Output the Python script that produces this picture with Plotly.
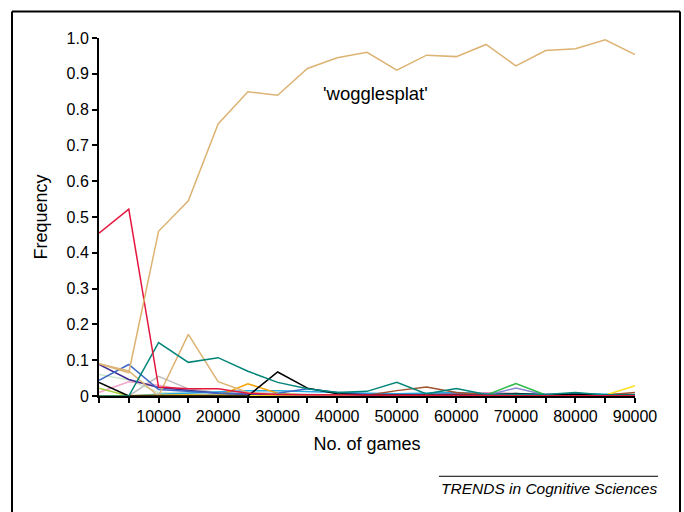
import plotly.graph_objects as go

games = [0, 5000, 10000, 15000, 20000, 25000, 30000, 35000, 40000, 45000,
         50000, 55000, 60000, 65000, 70000, 75000, 80000, 85000, 90000]

wogglesplat = [0.090, 0.065, 0.460, 0.545, 0.760, 0.850, 0.840, 0.915, 0.945, 0.960,
               0.910, 0.952, 0.948, 0.982, 0.922, 0.965, 0.970, 0.995, 0.954]
red = [0.455, 0.522, 0.025, 0.020, 0.020, 0.008, 0.004, 0.003, 0.002, 0.002,
       0.002, 0.002, 0.001, 0.001, 0.001, 0.001, 0.001, 0.001, 0.001]
teal = [0.000, 0.000, 0.149, 0.094, 0.107, 0.069, 0.038, 0.020, 0.010, 0.013,
        0.038, 0.006, 0.021, 0.004, 0.005, 0.004, 0.010, 0.003, 0.003]
black = [0.038, 0.000, 0.000, 0.000, 0.000, 0.000, 0.067, 0.022, 0.006, 0.003,
         0.003, 0.002, 0.002, 0.002, 0.007, 0.003, 0.005, 0.002, 0.003]
blue = [0.044, 0.088, 0.018, 0.012, 0.008, 0.006, 0.008, 0.020, 0.010, 0.005,
        0.004, 0.003, 0.004, 0.003, 0.004, 0.003, 0.008, 0.003, 0.003]
indigo = [0.088, 0.046, 0.024, 0.015, 0.008, 0.005, 0.004, 0.003, 0.002, 0.002,
          0.002, 0.002, 0.002, 0.002, 0.002, 0.002, 0.002, 0.002, 0.002]
pink = [0.010, 0.040, 0.030, 0.015, 0.008, 0.005, 0.004, 0.003, 0.002, 0.002,
        0.002, 0.002, 0.002, 0.002, 0.002, 0.002, 0.002, 0.002, 0.002]
palegreen = [0.060, 0.045, 0.010, 0.006, 0.004, 0.003, 0.002, 0.002, 0.002, 0.002,
             0.002, 0.002, 0.002, 0.002, 0.002, 0.002, 0.002, 0.002, 0.002]
yellowgreen = [0.022, 0.000, 0.002, 0.002, 0.002, 0.001, 0.001, 0.001, 0.001, 0.001,
               0.001, 0.001, 0.001, 0.001, 0.001, 0.001, 0.001, 0.001, 0.001]
gray = [0.000, 0.000, 0.055, 0.020, 0.010, 0.006, 0.004, 0.003, 0.002, 0.002,
        0.002, 0.002, 0.002, 0.002, 0.002, 0.002, 0.002, 0.002, 0.002]
tan2 = [0.090, 0.070, 0.000, 0.172, 0.040, 0.010, 0.005, 0.003, 0.002, 0.002,
        0.002, 0.002, 0.002, 0.002, 0.002, 0.002, 0.002, 0.002, 0.002]
orange = [0.000, 0.000, 0.002, 0.003, 0.000, 0.034, 0.008, 0.002, 0.001, 0.001,
          0.001, 0.001, 0.001, 0.001, 0.001, 0.001, 0.001, 0.001, 0.001]
cyan = [0.000, 0.000, 0.005, 0.008, 0.012, 0.015, 0.015, 0.012, 0.010, 0.008,
        0.006, 0.008, 0.010, 0.006, 0.004, 0.004, 0.006, 0.004, 0.004]
brown = [0.000, 0.000, 0.000, 0.001, 0.001, 0.001, 0.001, 0.001, 0.001, 0.002,
         0.015, 0.025, 0.010, 0.004, 0.003, 0.002, 0.003, 0.003, 0.010]
magenta = [0.000, 0.000, 0.002, 0.002, 0.002, 0.002, 0.002, 0.002, 0.002, 0.002,
           0.004, 0.004, 0.006, 0.008, 0.006, 0.003, 0.003, 0.002, 0.002]
green = [0.000, 0.000, 0.000, 0.000, 0.000, 0.000, 0.000, 0.000, 0.000, 0.001,
         0.001, 0.001, 0.002, 0.002, 0.035, 0.003, 0.002, 0.002, 0.002]
lavender = [0.000, 0.000, 0.000, 0.000, 0.000, 0.000, 0.000, 0.000, 0.000, 0.001,
            0.001, 0.001, 0.002, 0.002, 0.022, 0.003, 0.003, 0.002, 0.002]
yellow = [0.000, 0.000, 0.000, 0.000, 0.000, 0.000, 0.000, 0.000, 0.000, 0.000,
          0.000, 0.000, 0.000, 0.000, 0.000, 0.000, 0.000, 0.002, 0.029]

series = [
    ("palegreen", palegreen, "#CFE8CC"),
    ("gray", gray, "#BDBDBD"),
    ("pink", pink, "#F2A7CB"),
    ("yellowgreen", yellowgreen, "#A6D03A"),
    ("magenta", magenta, "#C2227A"),
    ("cyan", cyan, "#22A9DF"),
    ("brown", brown, "#A0522D"),
    ("lavender", lavender, "#8C86D4"),
    ("green", green, "#2DB84A"),
    ("yellow", yellow, "#FFE01A"),
    ("orange", orange, "#F5A300"),
    ("indigo", indigo, "#3B2B8E"),
    ("blue", blue, "#3E68C6"),
    ("tan2", tan2, "#DDB373"),
    ("black", black, "#000000"),
    ("teal", teal, "#008578"),
    ("red", red, "#E3173E"),
    ("wogglesplat", wogglesplat, "#DDB373"),
]

fig = go.Figure()
for name, vals, col in series:
    fig.add_trace(go.Scatter(x=games, y=vals, mode="lines", name=name,
                             line=dict(color=col, width=1.5), showlegend=False))

# plot area in pixels
W, H = 684, 512
L, R, T, B = 99, 635, 37.5, 396.5


def px(x):
    return (x - L) / (R - L)


def py(y):
    return (B - y) / (B - T)


tickvals = list(range(0, 90001, 5000))
ticktext = [("" if (v % 10000 or v == 0) else str(v)) for v in tickvals]

font = "Liberation Sans, Arial, sans-serif"

fig.update_layout(
    width=W, height=H,
    margin=dict(l=L, r=W - R, t=T, b=H - B),
    paper_bgcolor="white", plot_bgcolor="white",
    font=dict(family=font, size=16, color="black"),
    xaxis=dict(range=[0, 90000], tickvals=tickvals, ticktext=ticktext,
               ticks="outside", ticklen=5, tickwidth=1.5, tickcolor="black",
               showline=True, linecolor="black", linewidth=2,
               showgrid=False, zeroline=False,
               title=dict(text="No. of games", font=dict(size=18), standoff=13),
               tickfont=dict(size=16)),
    yaxis=dict(range=[0, 1], tickvals=[i / 10 for i in range(11)],
               ticktext=["0"] + [f"{i/10:.1f}" for i in range(1, 11)],
               ticks="outside", ticklen=5, tickwidth=1.5, tickcolor="black",
               showline=True, linecolor="black", linewidth=2,
               showgrid=False, zeroline=False,
               title=dict(text="Frequency", font=dict(size=18), standoff=14),
               tickfont=dict(size=16)),
)

frame = dict(color="black", width=2)
fig.add_shape(type="line", xref="paper", yref="paper",
              x0=px(12), x1=px(12), y0=py(11), y1=py(513), line=frame)
fig.add_shape(type="line", xref="paper", yref="paper",
              x0=px(12), x1=px(680), y0=py(11), y1=py(11), line=frame)
fig.add_shape(type="line", xref="paper", yref="paper",
              x0=px(680), x1=px(680), y0=py(11), y1=py(513), line=frame)
fig.add_shape(type="line", xref="paper", yref="paper",
              x0=px(439), x1=px(658), y0=py(477), y1=py(477),
              line=dict(color="black", width=1))

fig.add_annotation(xref="paper", yref="paper", x=px(375), y=py(93),
                   text="'wogglesplat'", showarrow=False,
                   font=dict(size=18.5, family=font), xanchor="center", yanchor="middle")
fig.add_annotation(xref="paper", yref="paper", x=px(659), y=py(489),
                   text="<i>TRENDS in Cognitive Sciences</i>", showarrow=False,
                   font=dict(size=15.5, family=font), xanchor="right", yanchor="middle")

fig.write_html("out.html", config={"displayModeBar": False},
               post_script="document.body.style.margin='0';document.body.style.overflow='hidden';")
